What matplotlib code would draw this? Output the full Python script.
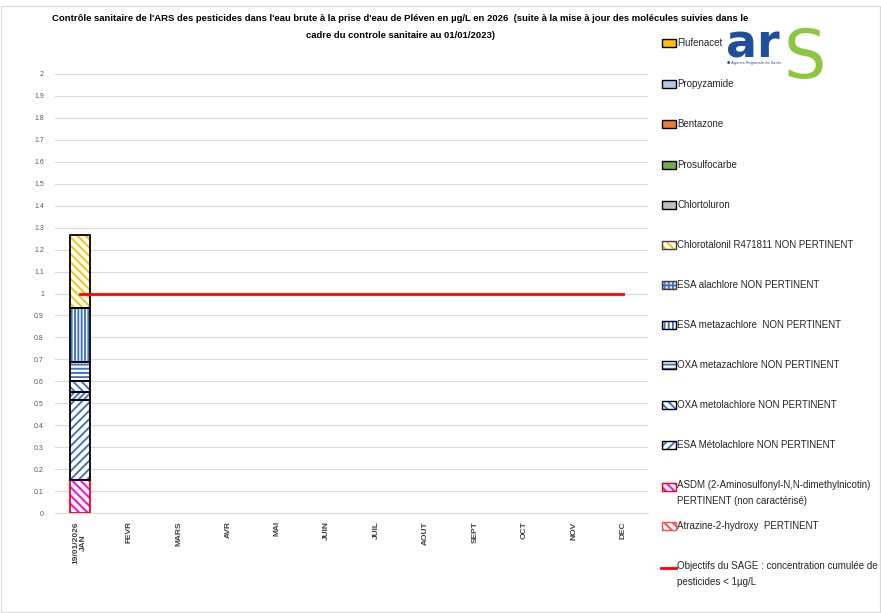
import matplotlib
matplotlib.use("Agg")
import matplotlib.pyplot as plt
from matplotlib.patches import Rectangle
from matplotlib.lines import Line2D
import numpy as np

# ---------------- data ----------------
months = ['19/01/2026\nJAN', 'FEVR', 'MARS', 'AVR', 'MAI', 'JUIN', 'JUIL',
          'AOUT', 'SEPT', 'OCT', 'NOV', 'DEC']

# legend order (top to bottom)
series_names = [
    'Flufenacet',
    'Propyzamide',
    'Bentazone',
    'Prosulfocarbe',
    'Chlortoluron',
    'Chlorotalonil R471811 NON PERTINENT',
    'ESA alachlore NON PERTINENT',
    'ESA metazachlore  NON PERTINENT',
    'OXA metazachlore NON PERTINENT',
    'OXA metolachlore NON PERTINENT',
    'ESA Métolachlore NON PERTINENT',
    'ASDM (2-Aminosulfonyl-N,N-dimethylnicotin)\nPERTINENT (non caractérisé)',
    'Atrazine-2-hydroxy  PERTINENT',
]
# values measured on 19/01/2026 (µg/L), same order as series_names
jan_values = [0.0, 0.0, 0.0, 0.0, 0.0, 0.33, 0.035, 0.245, 0.09, 0.05, 0.365, 0.15, 0.0]

# order of stacking in the bar (bottom -> top), indices into series_names
stack_order = [12, 11, 10, 6, 9, 8, 7, 5, 4, 3, 2, 1, 0]

sage_target = 1.0
sage_label = 'Objectifs du SAGE : concentration cumulée de\npesticides < 1µg/L'

title = ("Contrôle sanitaire de l'ARS des pesticides dans l'eau brute à la prise d'eau de Pléven en µg/L en 2026  "
         "(suite à la mise à jour des molécules suivies dans le\ncadre du controle sanitaire au 01/01/2023)")

# ---------------- styles ----------------
# (face, hatch colour, hatch, edge colour) for bars
bar_styles = {
    0: ('#FFC000', None, None, 'black'),
    1: ('#B4C7E7', None, None, 'black'),
    2: ('#ED7D31', None, None, 'black'),
    3: ('#70AD47', None, None, 'black'),
    4: ('#BFBFBF', None, None, 'black'),
    5: ('white', '#FFC000', '\\\\\\\\', 'black'),
    6: ('white', '#4472C4', '//////', 'black'),
    7: ('white', '#4472C4', '|||||', 'black'),
    8: ('white', '#4472C4', '----', 'black'),
    9: ('white', '#4472C4', '\\\\\\\\', 'black'),
    10: ('white', '#4472C4', '////', 'black'),
    11: ('white', '#FF00FF', '\\\\\\\\', '#FF0000'),
    12: ('white', '#FF5050', '\\\\\\\\', '#FF0000'),
}
legend_styles = {
    0: ('#FFC000', None, None, 'black'),
    1: ('#B4C7E7', None, None, 'black'),
    2: ('#ED7D31', None, None, 'black'),
    3: ('#70AD47', None, None, 'black'),
    4: ('#BFBFBF', None, None, 'black'),
    5: ('#FFFFFF', '#FFC000', '\\\\\\\\', '#404040'),
    6: ('white', '#4472C4', '++++', '#404040'),
    7: ('white', '#4472C4', '||||', 'black'),
    8: ('white', '#4472C4', '----', 'black'),
    9: ('white', '#4472C4', '\\\\\\\\', 'black'),
    10: ('white', '#4472C4', '////', 'black'),
    11: ('white', '#FF00FF', '\\\\\\\\', '#FF0000'),
    12: ('white', '#FF5050', '\\\\\\\\', '#FF5050'),
}

plt.rcParams['font.family'] = ['Liberation Sans Narrow', 'Liberation Sans', 'DejaVu Sans']
plt.rcParams['hatch.linewidth'] = 1.4

W, H = 881, 613
fig = plt.figure(figsize=(W / 100, H / 100), dpi=100)
ax = fig.add_axes([55 / W, 1 - 513 / H, (648 - 55) / W, (513 - 74) / H])

x = np.arange(len(months))
bw = 0.41
bottom = 0.0
for idx in stack_order:
    v = jan_values[idx]
    if v <= 0:
        continue
    face, hcol, hatch, edge = bar_styles[idx]
    if hatch:
        ax.bar(x[0], v, bw, bottom=bottom, color=face, edgecolor=hcol, hatch=hatch, linewidth=0, zorder=3)
        ax.bar(x[0], v, bw, bottom=bottom, fill=False, edgecolor=edge, linewidth=1.3, zorder=4)
    else:
        ax.bar(x[0], v, bw, bottom=bottom, color=face, edgecolor=edge, linewidth=1.3, zorder=3)
    bottom += v

ax.plot([x[0], x[-1]], [sage_target, sage_target], color='#FF0000', lw=2, zorder=5)

ax.set_xlim(-0.5, len(months) - 0.5)
ax.set_ylim(0, 2)
yt = np.round(np.arange(0, 2.01, 0.1), 1)
ax.set_yticks(yt)
ax.set_yticklabels([f'{t:g}' for t in yt], fontsize=5, color='#595959')
ax.set_xticks(x)
ax.set_xticklabels(months, rotation=90, fontsize=6.0, color='#404040', fontweight='bold', linespacing=1.1)
ax.tick_params(axis='y', length=0, pad=8)
ax.tick_params(axis='x', length=0, pad=6)
ax.grid(axis='y', color='#D9D9D9', lw=0.8, zorder=0)
for s in ['top', 'right', 'left']:
    ax.spines[s].set_visible(False)
ax.spines['bottom'].set_color('#D9D9D9')

fig.text(400 / W, 1 - 27 / H, title, ha='center', va='center', fontsize=6.8,
         fontweight='bold', linespacing=2.1)

# legend (manual)
leg_y = [43, 84, 124, 165, 205, 245, 285, 325, 365, 405, 445, 487, 526]
for i, name in enumerate(series_names):
    yc = leg_y[i]
    face, hcol, hatch, edge = legend_styles[i]
    rx, rw, rh = 662 / W, 14 / W, 8 / H
    ry = 1 - (yc + 4) / H
    if hatch:
        fig.patches.append(Rectangle((rx, ry), rw, rh, transform=fig.transFigure,
                                     facecolor=face, edgecolor=hcol, hatch=hatch, lw=0))
        fig.patches.append(Rectangle((rx, ry), rw, rh, transform=fig.transFigure,
                                     fill=False, edgecolor=edge, lw=1.0))
    else:
        fig.patches.append(Rectangle((rx, ry), rw, rh, transform=fig.transFigure,
                                     facecolor=face, edgecolor=edge, lw=1.0))
    if '\n' in name:
        fig.text(677 / W, 1 - (yc - 7) / H, name, ha='left', va='top',
                 fontsize=7.0, color='#262626', linespacing=1.75)
    else:
        fig.text(677 / W, 1 - yc / H, name, ha='left', va='center',
                 fontsize=7.0, color='#262626')

fig.lines.append(Line2D([661 / W, 676 / W], [1 - 568 / H, 1 - 568 / H],
                        transform=fig.transFigure, color='#FF0000', lw=2))
fig.text(677 / W, 1 - 561 / H, sage_label, ha='left', va='top', fontsize=7.0,
         color='#262626', linespacing=1.75)

# ARS logo (text approximation)
fig.text(726 / W, 1 - 57 / H, 'ar', fontsize=33, fontweight='bold', color='#1F4E9A',
         ha='left', va='baseline', family='DejaVu Sans')
fig.text(784 / W, 1 - 78 / H, 'S', fontsize=48, color='#8DC63F',
         ha='left', va='baseline', family='DejaVu Sans')
fig.text(727 / W, 1 - 63 / H, '● Agence Régionale de Santé', fontsize=2.6, color='#1F4E9A',
         ha='left', va='center', family='DejaVu Sans')

# outer border
fig.patches.append(Rectangle((0.001, 0.001), 0.998, 0.99, transform=fig.transFigure,
                             fill=False, edgecolor='#D9D9D9', lw=0.8))

fig.savefig('out.png', dpi=100)
